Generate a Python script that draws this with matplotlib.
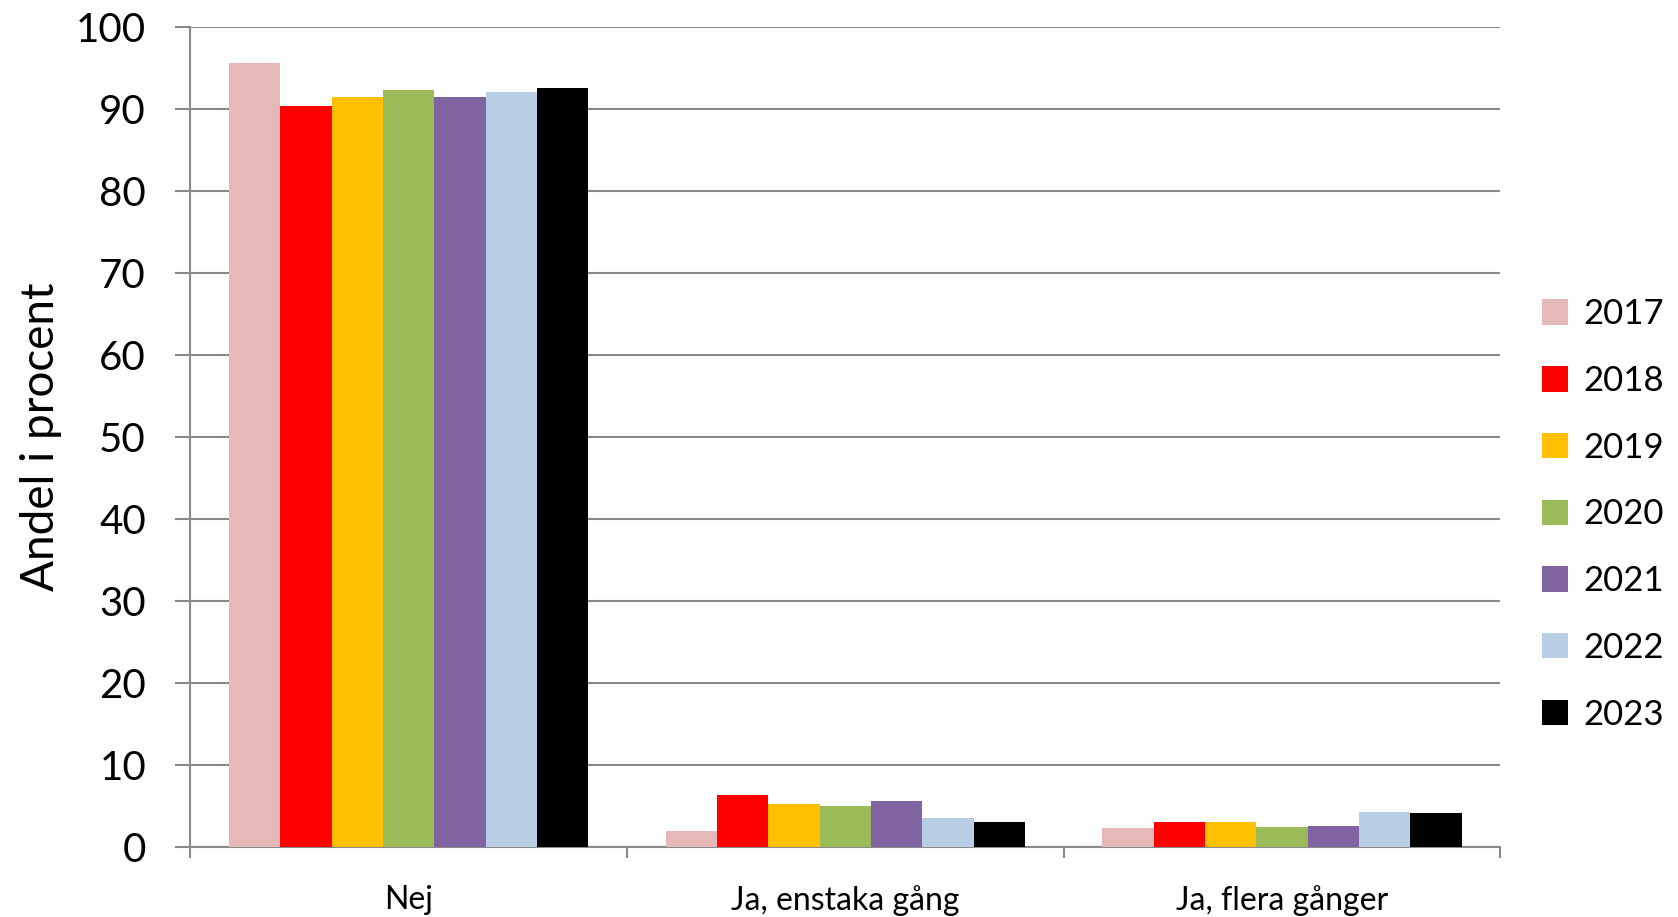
import numpy as np
import matplotlib
matplotlib.use("Agg")
import matplotlib.pyplot as plt

plt.rcParams['font.family'] = ['Lato', 'DejaVu Sans']

categories = ["Nej", "Ja, enstaka gång", "Ja, flera gånger"]
years = ["2017", "2018", "2019", "2020", "2021", "2022", "2023"]
colors = ["#E6B9B8", "#FF0000", "#FFC000", "#9BBB59", "#8064A2", "#B9CDE5", "#000000"]

values = {
    "2017": [95.6, 1.9, 2.3],
    "2018": [90.4, 6.3, 3.1],
    "2019": [91.4, 5.3, 3.1],
    "2020": [92.3, 5.0, 2.4],
    "2021": [91.5, 5.6, 2.6],
    "2022": [92.1, 3.5, 4.3],
    "2023": [92.6, 3.0, 4.2],
}

grey = "#898989"

fig = plt.figure(figsize=(16.78, 9.17), dpi=100)
ax = fig.add_axes([0.1135, 0.0763, 0.7805, 0.8943])

x = np.arange(len(categories))
w = 0.1176
for i, yr in enumerate(years):
    ax.bar(x + (i - 3) * w, values[yr], width=w, color=colors[i], label=yr, zorder=3)

ax.set_xlim(-0.5, 2.5)
ax.set_ylim(0, 100)
ax.set_yticks(range(0, 101, 10))
ax.yaxis.grid(True, color=grey, linewidth=1.5, zorder=0)

# category labels between boundary ticks
ax.set_xticks([-0.5, 0.5, 1.5, 2.5])
ax.set_xticklabels([])
ax.set_xticks(x, minor=True)
ax.set_xticklabels(categories, minor=True, fontsize=23)
ax.tick_params(axis='x', which='minor', length=0, pad=27)
ax.tick_params(axis='x', which='major', length=8, width=1.5, color=grey)
ax.tick_params(axis='y', length=11, width=1.5, color=grey, labelsize=29, pad=21)

for s in ["top", "right"]:
    ax.spines[s].set_visible(False)
for s in ["left", "bottom"]:
    ax.spines[s].set_color(grey)
    ax.spines[s].set_linewidth(1.5)

ax.set_ylabel("Andel i procent", fontsize=33, labelpad=10)

fig.legend(loc="center left", bbox_to_anchor=(0.919, 0.439), frameon=False,
           fontsize=25, handlelength=0.75, handleheight=0.75, labelspacing=1.0,
           handletextpad=0.45, borderpad=0, borderaxespad=0)

fig.savefig("out.png", dpi=100)
